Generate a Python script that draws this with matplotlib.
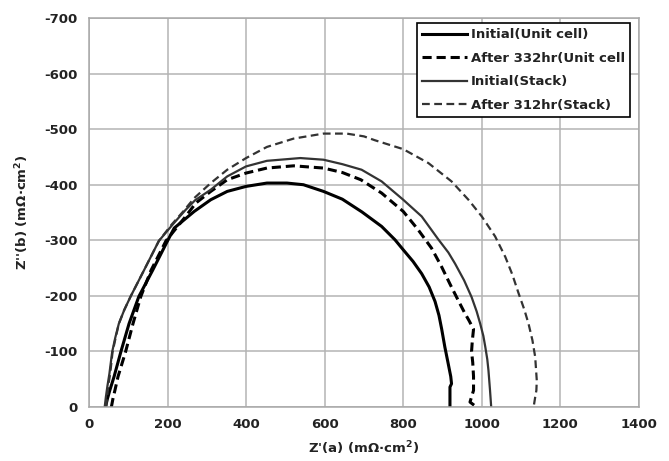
import numpy as np
import matplotlib
matplotlib.use("Agg")
import matplotlib.pyplot as plt

plt.rcParams['axes.unicode_minus'] = False
plt.rcParams['font.family'] = ['DejaVu Sans']

# Nyquist curves: Z' (x) and Z'' (y), mOhm cm2
unit_init_x = [42, 47, 53, 64, 81, 102, 127, 162, 200, 217, 268, 310, 352, 400, 453, 504, 546, 597, 645, 695,
               745, 779, 800, 825, 847, 866, 881, 891, 898, 906, 914, 921, 923, 919, 919]
unit_init_y = [0, -15, -30, -55, -99, -150, -199, -246, -299, -322, -352, -373, -388, -397, -403, -403, -400, -388, -374, -351,
               -325, -301, -283, -262, -240, -216, -190, -165, -140, -108, -80, -55, -42, -36, 0]

unit_aged_x = [57, 61, 66, 74, 93, 112, 132, 158, 196, 245, 272, 310, 352, 400, 453, 521, 597, 645, 692, 745, 800,
               838, 872, 898, 920, 940, 956, 968, 979, 976, 974, 977, 979, 979, 970, 983]
unit_aged_y = [0, -15, -30, -55, -99, -150, -199, -246, -299, -342, -367, -388, -409, -421, -430, -434, -430, -422, -409, -385, -352,
               -319, -286, -252, -220, -192, -170, -155, -140, -120, -100, -80, -55, -30, -9, -2]

stack_init_x = [40, 43, 47, 52, 59, 67, 76, 90, 106, 140, 178, 215, 245, 270, 310, 352, 400, 453, 538, 597, 645, 694, 745,
                800, 847, 889, 915, 932, 955, 974, 987, 996, 1004, 1009, 1014, 1017, 1021, 1024]
stack_init_y = [0, -18, -38, -60, -99, -125, -150, -175, -199, -246, -299, -330, -354, -372, -391, -415, -433, -443, -448, -445, -437, -427, -406,
                -373, -343, -302, -278, -258, -228, -198, -172, -150, -128, -108, -86, -66, -30, 0]

stack_aged_x = [44, 46, 49, 54, 60, 68, 76, 90, 106, 140, 178, 210, 240, 268, 310, 352, 400, 453, 521, 597, 656, 700, 728, 800,
                864, 923, 966, 1000, 1034, 1060, 1078, 1094, 1108, 1119, 1129, 1136, 1140, 1139, 1136, 1132]
stack_aged_y = [0, -18, -38, -60, -99, -125, -150, -175, -199, -246, -299, -328, -352, -376, -403, -427, -448, -468, -483, -492, -492, -487, -480, -464,
                -439, -406, -373, -343, -307, -270, -238, -204, -176, -150, -120, -90, -48, -30, -18, 0]

labels = ["Initial(Unit cell)", "After 332hr(Unit cell", "Initial(Stack)", "After 312hr(Stack)"]

fig = plt.figure(figsize=(6.69, 4.61), dpi=100)
ax = fig.add_axes([0.133, 0.117, 0.822, 0.844])

ax.plot(unit_init_x, unit_init_y, color='black', lw=2.2, ls='-', label=labels[0])
ax.plot(unit_aged_x, unit_aged_y, color='black', lw=2.2, ls=(0, (3, 1.6)), label=labels[1])
ax.plot(stack_init_x, stack_init_y, color='#333333', lw=1.6, ls='-', label=labels[2])
ax.plot(stack_aged_x, stack_aged_y, color='#333333', lw=1.6, ls=(0, (3.5, 2)), label=labels[3])

ax.set_xlim(0, 1400)
ax.set_ylim(0, -700)
ax.set_xticks(np.arange(0, 1401, 200))
ax.set_yticks(np.arange(0, -701, -100))
ax.grid(True, color='#b4b4b4', lw=1.1)
ax.set_axisbelow(True)
for s in ax.spines.values():
    s.set_color('#a8a8a8')
    s.set_linewidth(1.1)
ax.tick_params(length=0, labelsize=9.5, pad=8)
for t in ax.get_xticklabels() + ax.get_yticklabels():
    t.set_fontweight('bold')
    t.set_color('#222222')

ax.set_xlabel("Z'(a) (m\u03a9\u00b7cm$^{\\mathbf{2}}$)", fontsize=9.5, fontweight='bold', color='#222222', labelpad=6)
ax.set_ylabel("Z''(b) (m\u03a9\u00b7cm$^{\\mathbf{2}}$)", fontsize=9.5, fontweight='bold', color='#222222', labelpad=10)

leg = ax.legend(loc='upper right', bbox_to_anchor=(0.984, 0.987), borderaxespad=0, fontsize=9.5,
                handlelength=3.4, handletextpad=0.3, labelspacing=0.8, borderpad=0.4, fancybox=False,
                edgecolor='black', framealpha=1)
leg.get_frame().set_linewidth(1.2)
for t in leg.get_texts():
    t.set_fontweight('bold')
    t.set_color('#222222')

fig.savefig("out.png", dpi=100)
